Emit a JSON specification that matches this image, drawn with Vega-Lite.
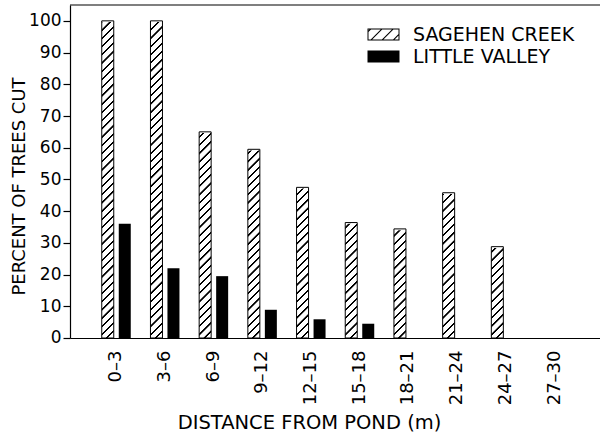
{
  "$schema": "https://vega.github.io/schema/vega-lite/v6.json",
  "autosize": {"type": "none"},
  "padding": {"left": 70, "top": 5, "right": 0, "bottom": 103},
  "width": 530.8,
  "height": 333,
  "background": "white",
  "config": {
    "font": "DejaVu Sans",
    "view": {"stroke": null},
    "axis": {"labelColor": "black", "titleColor": "black", "domainColor": "black", "tickColor": "black", "grid": false, "titleFontWeight": "normal"},
    "axisY": {"tickCount": 11, "labelOverlap": false}
  },
  "data": {
    "values": [
      {"dist": "0–3", "series": "SAGEHEN CREEK", "pct": 100},
      {"dist": "3–6", "series": "SAGEHEN CREEK", "pct": 100},
      {"dist": "6–9", "series": "SAGEHEN CREEK", "pct": 65},
      {"dist": "9–12", "series": "SAGEHEN CREEK", "pct": 59.5},
      {"dist": "12–15", "series": "SAGEHEN CREEK", "pct": 47.5},
      {"dist": "15–18", "series": "SAGEHEN CREEK", "pct": 36.4},
      {"dist": "18–21", "series": "SAGEHEN CREEK", "pct": 34.4},
      {"dist": "21–24", "series": "SAGEHEN CREEK", "pct": 45.8},
      {"dist": "24–27", "series": "SAGEHEN CREEK", "pct": 28.8},
      {"dist": "0–3", "series": "LITTLE VALLEY", "pct": 36},
      {"dist": "3–6", "series": "LITTLE VALLEY", "pct": 22},
      {"dist": "6–9", "series": "LITTLE VALLEY", "pct": 19.5},
      {"dist": "9–12", "series": "LITTLE VALLEY", "pct": 8.9},
      {"dist": "12–15", "series": "LITTLE VALLEY", "pct": 5.9},
      {"dist": "15–18", "series": "LITTLE VALLEY", "pct": 4.5}
    ]
  },
  "layer": [
    {
      "transform": [{"filter": "datum.series === 'SAGEHEN CREEK'"}],
      "mark": {
        "type": "bar",
        "stroke": null,
        "fill": {
          "gradient": "linear", "x1": 0, "y1": 0, "x2": 0.039214, "y2": 1.03636,
          "stops": [
            {"offset": 0, "color": "#fff"}, {"offset": 0.001, "color": "#000"}, {"offset": 0.0065, "color": "#000"}, {"offset": 0.0075, "color": "#fff"},
            {"offset": 0.025, "color": "#fff"}, {"offset": 0.026, "color": "#000"}, {"offset": 0.0315, "color": "#000"}, {"offset": 0.0325, "color": "#fff"},
            {"offset": 0.05, "color": "#fff"}, {"offset": 0.051, "color": "#000"}, {"offset": 0.0565, "color": "#000"}, {"offset": 0.0575, "color": "#fff"},
            {"offset": 0.075, "color": "#fff"}, {"offset": 0.076, "color": "#000"}, {"offset": 0.0815, "color": "#000"}, {"offset": 0.0825, "color": "#fff"},
            {"offset": 0.1, "color": "#fff"}, {"offset": 0.101, "color": "#000"}, {"offset": 0.1065, "color": "#000"}, {"offset": 0.1075, "color": "#fff"},
            {"offset": 0.125, "color": "#fff"}, {"offset": 0.126, "color": "#000"}, {"offset": 0.1315, "color": "#000"}, {"offset": 0.1325, "color": "#fff"},
            {"offset": 0.15, "color": "#fff"}, {"offset": 0.151, "color": "#000"}, {"offset": 0.1565, "color": "#000"}, {"offset": 0.1575, "color": "#fff"},
            {"offset": 0.175, "color": "#fff"}, {"offset": 0.176, "color": "#000"}, {"offset": 0.1815, "color": "#000"}, {"offset": 0.1825, "color": "#fff"},
            {"offset": 0.2, "color": "#fff"}, {"offset": 0.201, "color": "#000"}, {"offset": 0.2065, "color": "#000"}, {"offset": 0.2075, "color": "#fff"},
            {"offset": 0.225, "color": "#fff"}, {"offset": 0.226, "color": "#000"}, {"offset": 0.2315, "color": "#000"}, {"offset": 0.2325, "color": "#fff"},
            {"offset": 0.25, "color": "#fff"}, {"offset": 0.251, "color": "#000"}, {"offset": 0.2565, "color": "#000"}, {"offset": 0.2575, "color": "#fff"},
            {"offset": 0.275, "color": "#fff"}, {"offset": 0.276, "color": "#000"}, {"offset": 0.2815, "color": "#000"}, {"offset": 0.2825, "color": "#fff"},
            {"offset": 0.3, "color": "#fff"}, {"offset": 0.301, "color": "#000"}, {"offset": 0.3065, "color": "#000"}, {"offset": 0.3075, "color": "#fff"},
            {"offset": 0.325, "color": "#fff"}, {"offset": 0.326, "color": "#000"}, {"offset": 0.3315, "color": "#000"}, {"offset": 0.3325, "color": "#fff"},
            {"offset": 0.35, "color": "#fff"}, {"offset": 0.351, "color": "#000"}, {"offset": 0.3565, "color": "#000"}, {"offset": 0.3575, "color": "#fff"},
            {"offset": 0.375, "color": "#fff"}, {"offset": 0.376, "color": "#000"}, {"offset": 0.3815, "color": "#000"}, {"offset": 0.3825, "color": "#fff"},
            {"offset": 0.4, "color": "#fff"}, {"offset": 0.401, "color": "#000"}, {"offset": 0.4065, "color": "#000"}, {"offset": 0.4075, "color": "#fff"},
            {"offset": 0.425, "color": "#fff"}, {"offset": 0.426, "color": "#000"}, {"offset": 0.4315, "color": "#000"}, {"offset": 0.4325, "color": "#fff"},
            {"offset": 0.45, "color": "#fff"}, {"offset": 0.451, "color": "#000"}, {"offset": 0.4565, "color": "#000"}, {"offset": 0.4575, "color": "#fff"},
            {"offset": 0.475, "color": "#fff"}, {"offset": 0.476, "color": "#000"}, {"offset": 0.4815, "color": "#000"}, {"offset": 0.4825, "color": "#fff"},
            {"offset": 0.5, "color": "#fff"}, {"offset": 0.501, "color": "#000"}, {"offset": 0.5065, "color": "#000"}, {"offset": 0.5075, "color": "#fff"},
            {"offset": 0.525, "color": "#fff"}, {"offset": 0.526, "color": "#000"}, {"offset": 0.5315, "color": "#000"}, {"offset": 0.5325, "color": "#fff"},
            {"offset": 0.55, "color": "#fff"}, {"offset": 0.551, "color": "#000"}, {"offset": 0.5565, "color": "#000"}, {"offset": 0.5575, "color": "#fff"},
            {"offset": 0.575, "color": "#fff"}, {"offset": 0.576, "color": "#000"}, {"offset": 0.5815, "color": "#000"}, {"offset": 0.5825, "color": "#fff"},
            {"offset": 0.6, "color": "#fff"}, {"offset": 0.601, "color": "#000"}, {"offset": 0.6065, "color": "#000"}, {"offset": 0.6075, "color": "#fff"},
            {"offset": 0.625, "color": "#fff"}, {"offset": 0.626, "color": "#000"}, {"offset": 0.6315, "color": "#000"}, {"offset": 0.6325, "color": "#fff"},
            {"offset": 0.65, "color": "#fff"}, {"offset": 0.651, "color": "#000"}, {"offset": 0.6565, "color": "#000"}, {"offset": 0.6575, "color": "#fff"},
            {"offset": 0.675, "color": "#fff"}, {"offset": 0.676, "color": "#000"}, {"offset": 0.6815, "color": "#000"}, {"offset": 0.6825, "color": "#fff"},
            {"offset": 0.7, "color": "#fff"}, {"offset": 0.701, "color": "#000"}, {"offset": 0.7065, "color": "#000"}, {"offset": 0.7075, "color": "#fff"},
            {"offset": 0.725, "color": "#fff"}, {"offset": 0.726, "color": "#000"}, {"offset": 0.7315, "color": "#000"}, {"offset": 0.7325, "color": "#fff"},
            {"offset": 0.75, "color": "#fff"}, {"offset": 0.751, "color": "#000"}, {"offset": 0.7565, "color": "#000"}, {"offset": 0.7575, "color": "#fff"},
            {"offset": 0.775, "color": "#fff"}, {"offset": 0.776, "color": "#000"}, {"offset": 0.7815, "color": "#000"}, {"offset": 0.7825, "color": "#fff"},
            {"offset": 0.8, "color": "#fff"}, {"offset": 0.801, "color": "#000"}, {"offset": 0.8065, "color": "#000"}, {"offset": 0.8075, "color": "#fff"},
            {"offset": 0.825, "color": "#fff"}, {"offset": 0.826, "color": "#000"}, {"offset": 0.8315, "color": "#000"}, {"offset": 0.8325, "color": "#fff"},
            {"offset": 0.85, "color": "#fff"}, {"offset": 0.851, "color": "#000"}, {"offset": 0.8565, "color": "#000"}, {"offset": 0.8575, "color": "#fff"},
            {"offset": 0.875, "color": "#fff"}, {"offset": 0.876, "color": "#000"}, {"offset": 0.8815, "color": "#000"}, {"offset": 0.8825, "color": "#fff"},
            {"offset": 0.9, "color": "#fff"}, {"offset": 0.901, "color": "#000"}, {"offset": 0.9065, "color": "#000"}, {"offset": 0.9075, "color": "#fff"},
            {"offset": 0.925, "color": "#fff"}, {"offset": 0.926, "color": "#000"}, {"offset": 0.9315, "color": "#000"}, {"offset": 0.9325, "color": "#fff"},
            {"offset": 0.95, "color": "#fff"}, {"offset": 0.951, "color": "#000"}, {"offset": 0.9565, "color": "#000"}, {"offset": 0.9575, "color": "#fff"},
            {"offset": 0.975, "color": "#fff"}, {"offset": 0.976, "color": "#000"}, {"offset": 0.9815, "color": "#000"}, {"offset": 0.9825, "color": "#fff"},
            {"offset": 1, "color": "#fff"}
          ]
        }
      },
      "encoding": {
        "x": {"field": "dist", "type": "nominal", "sort": null, "scale": {"domain": ["0–3", "3–6", "6–9", "9–12", "12–15", "15–18", "18–21", "21–24", "24–27", "27–30"], "paddingInner": 0, "paddingOuter": 0.45},
          "axis": {"title": "DISTANCE FROM POND (m)", "labelAngle": 270, "labelFontSize": 18, "labelPadding": 12, "ticks": false, "tickSize": 0, "domainWidth": 1.2, "titleFontSize": 19.5, "titleX": 239, "titleY": 91, "titleBaseline": "alphabetic", "titleAlign": "center"}},
        "xOffset": {"field": "series", "type": "nominal", "scale": {"domain": ["SAGEHEN CREEK", "LITTLE VALLEY"], "paddingInner": 0.29412, "paddingOuter": 0.5794}},
        "y": {"datum": 100, "type": "quantitative", "scale": {"domain": [0, 105], "nice": false, "zero": true},
          "axis": {"title": "PERCENT OF TREES CUT", "values": [0, 10, 20, 30, 40, 50, 60, 70, 80, 90, 100], "tickCount": 11, "labelOverlap": false, "tickSize": 7, "tickWidth": 1.2, "domainWidth": 1.2, "labelFontSize": 17, "labelPadding": 2, "titleFontSize": 18, "titleX": -45, "titleY": 181, "titleBaseline": "alphabetic", "titleAlign": "center", "titleAngle": 270}},
        "y2": {"datum": 0}
      }
    },
    {
      "transform": [{"filter": "datum.series === 'SAGEHEN CREEK'"}],
      "mark": {"type": "bar", "fill": "white", "stroke": "white", "strokeWidth": 2.5},
      "encoding": {
        "x": {"field": "dist", "type": "nominal", "sort": null},
        "xOffset": {"field": "series", "type": "nominal"},
        "y": {"field": "pct", "type": "quantitative"},
        "y2": {"datum": 100}
      }
    },
    {
      "transform": [{"filter": "datum.series === 'SAGEHEN CREEK'"}],
      "mark": {"type": "bar", "fill": "transparent", "stroke": "black", "strokeWidth": 1},
      "encoding": {
        "x": {"field": "dist", "type": "nominal", "sort": null},
        "xOffset": {"field": "series", "type": "nominal"},
        "y": {"field": "pct", "type": "quantitative"}
      }
    },
    {
      "transform": [{"filter": "datum.series === 'LITTLE VALLEY'"}],
      "mark": {"type": "bar", "fill": "black"},
      "encoding": {
        "x": {"field": "dist", "type": "nominal", "sort": null},
        "xOffset": {"field": "series", "type": "nominal"},
        "y": {"field": "pct", "type": "quantitative"}
      }
    },
    {
      "mark": {"type": "point", "opacity": 0, "filled": true},
      "encoding": {
        "x": {"field": "dist", "type": "nominal", "sort": null},
        "xOffset": {"field": "series", "type": "nominal"},
        "y": {"field": "pct", "type": "quantitative"},
        "fill": {
          "field": "series", "type": "nominal",
          "scale": {"domain": ["SAGEHEN CREEK", "LITTLE VALLEY"], "range": ["black", "black"]},
          "legend": {
            "title": null, "orient": "none", "legendX": 304, "legendY": 20, "padding": 0,
            "symbolSize": 256, "symbolStrokeWidth": 0, "symbolOpacity": 1,
            "labelFontSize": 19, "labelColor": "black", "labelOffset": 20, "rowPadding": 2, "labelLimit": 400
          }
        },
        "shape": {
          "field": "series", "type": "nominal",
          "scale": {"domain": ["SAGEHEN CREEK", "LITTLE VALLEY"], "range": [
            "M-2,-0.75H2V0.75H-2Z M-1.875,-0.625V0.625H1.875V-0.625Z M-1.6,0.625L-1.41,0.625L-0.16,-0.625L-0.35,-0.625Z M-0.2,0.625L-0.01,0.625L1.24,-0.625L1.05,-0.625Z M1.2,0.625L1.39,0.625L1.875,0.14L1.875,-0.05Z M-1.875,-0.31L-1.56,-0.625L-1.75,-0.625L-1.875,-0.5Z",
            "M-2,-0.75H2V0.75H-2Z"
          ]},
          "legend": {
            "title": null, "orient": "none", "legendX": 304, "legendY": 20, "padding": 0,
            "symbolSize": 256, "symbolStrokeWidth": 0, "symbolOpacity": 1,
            "labelFontSize": 19, "labelColor": "black", "labelOffset": 20, "rowPadding": 2, "labelLimit": 400
          }
        }
      }
    },
    {
      "data": {"values": [{}]},
      "mark": {"type": "rule", "color": "black", "strokeWidth": 1.2},
      "encoding": {"y": {"datum": 105, "type": "quantitative"}}
    }
  ]
}
